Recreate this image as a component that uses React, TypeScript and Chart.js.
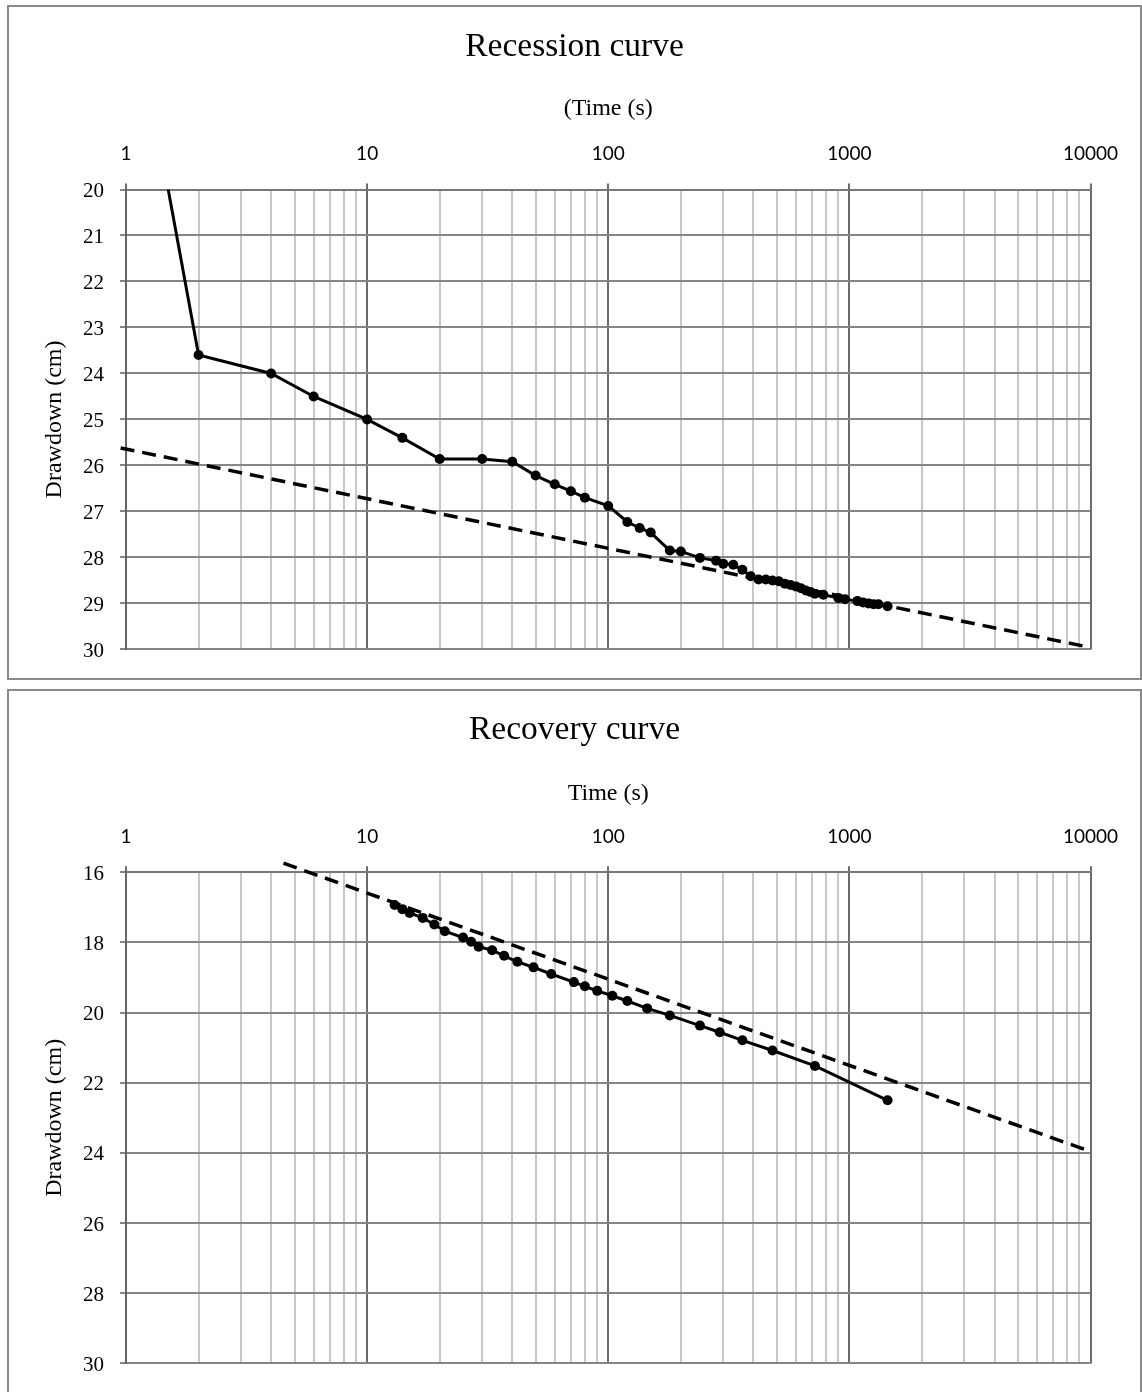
import React, { useEffect, useRef } from "react";
import { Chart, registerables } from "chart.js";

Chart.register(...registerables);

// ---------- Data ----------
const recessionTime = [1, 2, 4, 6, 10, 14, 20, 30, 40, 50, 60, 70, 80, 100, 120, 135, 150, 180, 200, 240, 280, 300, 330, 360, 390, 420, 450, 480, 510, 540, 570, 600, 630, 660, 690, 720, 780, 900, 960, 1080, 1140, 1200, 1260, 1320, 1440];
const recessionDrawdown = [15, 23.6, 24.0, 24.5, 25.0, 25.4, 25.86, 25.86, 25.92, 26.22, 26.41, 26.56, 26.7, 26.88, 27.23, 27.36, 27.46, 27.85, 27.87, 28.01, 28.07, 28.14, 28.16, 28.27, 28.41, 28.48, 28.48, 28.5, 28.52, 28.57, 28.6, 28.63, 28.67, 28.72, 28.75, 28.79, 28.81, 28.88, 28.91, 28.95, 28.98, 29.0, 29.02, 29.02, 29.06];
const recessionTrendTime = [0.95, 10000];
const recessionTrendDrawdown = [25.62, 29.96];

const recoveryTime = [13, 14, 15, 17, 19, 21, 25, 27, 29, 33, 37, 42, 49, 58, 72, 80, 90, 104, 120, 145, 180, 240, 290, 360, 480, 720, 1440];
const recoveryDrawdown = [16.93, 17.05, 17.16, 17.3, 17.49, 17.68, 17.86, 17.98, 18.12, 18.22, 18.38, 18.55, 18.71, 18.9, 19.13, 19.25, 19.38, 19.52, 19.67, 19.88, 20.08, 20.37, 20.56, 20.79, 21.08, 21.52, 22.5];
const recoveryTrendTime = [4.5, 10000];
const recoveryTrendDrawdown = [15.74, 23.96];

const xTickValues = [
  1, 2, 3, 4, 5, 6, 7, 8, 9,
  10, 20, 30, 40, 50, 60, 70, 80, 90,
  100, 200, 300, 400, 500, 600, 700, 800, 900,
  1000, 2000, 3000, 4000, 5000, 6000, 7000, 8000, 9000,
  10000,
];

const recessionTitle = "Recession curve";
const recessionXTitle = "(Time (s)";
const recoveryTitle = "Recovery curve";
const recoveryXTitle = "Time (s)";
const yTitle = "Drawdown (cm)";

// ---------- Helpers ----------
const SERIF = "'Liberation Serif', 'Times New Roman', serif";
const SANS = "Lato, 'Open Sans', sans-serif";
const TITLE_SIZE = 33.5;

function isDecade(v: any): boolean {
  const n = Number(v);
  if (!isFinite(n) || n <= 0) return false;
  const l = Math.log10(n);
  return Math.abs(l - Math.round(l)) < 1e-9;
}

function toPoints(xs: number[], ys: number[]) {
  return xs.map((x, i) => ({ x, y: ys[i] }));
}

type Spec = {
  title: string;
  xTitle: string;
  time: number[];
  drawdown: number[];
  trendTime: number[];
  trendDrawdown: number[];
  yMin: number;
  yMax: number;
  yStep: number;
  titleMid: number;
  axisTitleMid: number;
  chartTop: number;
  padRight: number;
  padBottom: number;
};

function makeConfig(spec: Spec): any {
  const titleLH = TITLE_SIZE * 1.2;
  const titleHeight = spec.titleMid + titleLH / 2;
  const xScaleHeight = spec.chartTop - titleHeight;
  const axisTitleLH = 24 * 1.2;
  const axisTitlePad = spec.axisTitleMid - titleHeight - axisTitleLH / 2;
  return {
    type: "line",
    data: {
      datasets: [
        {
          data: toPoints(spec.time, spec.drawdown),
          borderColor: "#000",
          backgroundColor: "#000",
          borderWidth: 3,
          pointRadius: 5,
          pointBackgroundColor: "#000",
          pointBorderWidth: 0,
          tension: 0,
          clip: 0,
        },
        {
          data: toPoints(spec.trendTime, spec.trendDrawdown),
          borderColor: "#000",
          borderWidth: 3.5,
          borderDash: [14, 8],
          pointRadius: 0,
          tension: 0,
          clip: false,
        },
      ],
    },
    options: {
      responsive: false,
      animation: false,
      devicePixelRatio: 1,
      events: [],
      layout: { padding: { left: 0, top: 0, right: 0, bottom: spec.padBottom } },
      plugins: {
        legend: { display: false },
        tooltip: { enabled: false },
        title: {
          display: true,
          text: spec.title,
          color: "#000",
          font: { family: SERIF, size: TITLE_SIZE, weight: "normal", lineHeight: 1.2 },
          padding: { top: spec.titleMid - titleLH / 2, bottom: 0 },
        },
      },
      scales: {
        x: {
          type: "logarithmic",
          position: "top",
          min: 1,
          max: 10000,
          afterBuildTicks: (s: any) => {
            s.ticks = xTickValues.map((v) => ({ value: v, major: isDecade(v) }));
          },
          afterFit: (s: any) => {
            s.height = xScaleHeight;
          },
          ticks: {
            autoSkip: false,
            maxRotation: 0,
            minRotation: 0,
            padding: 18.5,
            color: "#000",
            font: { family: SANS, size: 19, lineHeight: 1.2 },
            callback: (v: any) => (isDecade(v) ? String(Math.round(Number(v))) : ""),
          },
          grid: {
            color: (c: any) => (isDecade(c.tick?.value) ? "#6b6b6b" : "#c8c8c8"),
            lineWidth: 2,
            tickLength: 6,
            tickColor: (c: any) => (isDecade(c.tick?.value) ? "#6b6b6b" : "rgba(0,0,0,0)"),
          },
          border: { color: "#777", width: 2 },
          title: {
            display: true,
            text: spec.xTitle,
            color: "#000",
            font: { family: SERIF, size: 24, lineHeight: 1.2 },
            padding: { top: axisTitlePad, bottom: 0 },
          },
        },
        y: {
          type: "linear",
          reverse: true,
          min: spec.yMin,
          max: spec.yMax,
          afterFit: (s: any) => {
            s.width = 117;
          },
          ticks: {
            stepSize: spec.yStep,
            padding: 16,
            labelOffset: 2,
            color: "#000",
            font: { family: SERIF, size: 21, lineHeight: 1.2 },
          },
          grid: { color: "#858585", lineWidth: 2, tickLength: 6 },
          border: { color: "#666", width: 2 },
          title: {
            display: true,
            text: yTitle,
            color: "#000",
            font: { family: SERIF, size: 24, lineHeight: 1.2 },
            padding: { top: 31, bottom: 0 },
          },
        },
        // empty spacer on the right so the title stays centred on the whole box
        spacer: {
          type: "linear",
          position: "right",
          display: true,
          min: 0,
          max: 1,
          afterFit: (s: any) => {
            s.width = spec.padRight;
          },
          ticks: { display: false },
          grid: { display: false, drawTicks: false },
          border: { display: false },
          title: { display: false },
        },
      },
    },
  };
}

function ChartCanvas({ spec, width, height }: { spec: Spec; width: number; height: number }) {
  const ref = useRef<HTMLCanvasElement | null>(null);
  useEffect(() => {
    if (!ref.current) return;
    const chart = new Chart(ref.current, makeConfig(spec));
    return () => chart.destroy();
  }, [spec, width, height]);
  return <canvas ref={ref} width={width} height={height} style={{ display: "block", width, height }} />;
}

const recessionSpec: Spec = {
  title: recessionTitle,
  xTitle: recessionXTitle,
  time: recessionTime,
  drawdown: recessionDrawdown,
  trendTime: recessionTrendTime,
  trendDrawdown: recessionTrendDrawdown,
  yMin: 20,
  yMax: 30,
  yStep: 1,
  titleMid: 40,
  axisTitleMid: 102,
  chartTop: 182.5,
  padRight: 49.5,
  padBottom: 25.7,
};

const recoverySpec: Spec = {
  title: recoveryTitle,
  xTitle: recoveryXTitle,
  time: recoveryTime,
  drawdown: recoveryDrawdown,
  trendTime: recoveryTrendTime,
  trendDrawdown: recoveryTrendDrawdown,
  yMin: 16,
  yMax: 30,
  yStep: 2,
  titleMid: 39,
  axisTitleMid: 103,
  chartTop: 181.3,
  padRight: 49.5,
  padBottom: 22,
};

export default function App() {
  const boxBorder = "2px solid #8a8a8a";
  return (
    <div style={{ position: "absolute", left: 0, top: 0, width: 1142, height: 1392, overflow: "hidden", background: "#fff" }}>
      <div
        style={{
          position: "absolute",
          left: 7,
          top: 5,
          width: 1135,
          height: 675,
          border: boxBorder,
          boxSizing: "border-box",
        }}
      >
        <ChartCanvas spec={recessionSpec} width={1131} height={671} />
      </div>
      <div
        style={{
          position: "absolute",
          left: 7,
          top: 689,
          width: 1135,
          height: 703,
          border: boxBorder,
          borderBottom: "none",
          boxSizing: "border-box",
        }}
      >
        <ChartCanvas spec={recoverySpec} width={1131} height={701} />
      </div>
    </div>
  );
}
